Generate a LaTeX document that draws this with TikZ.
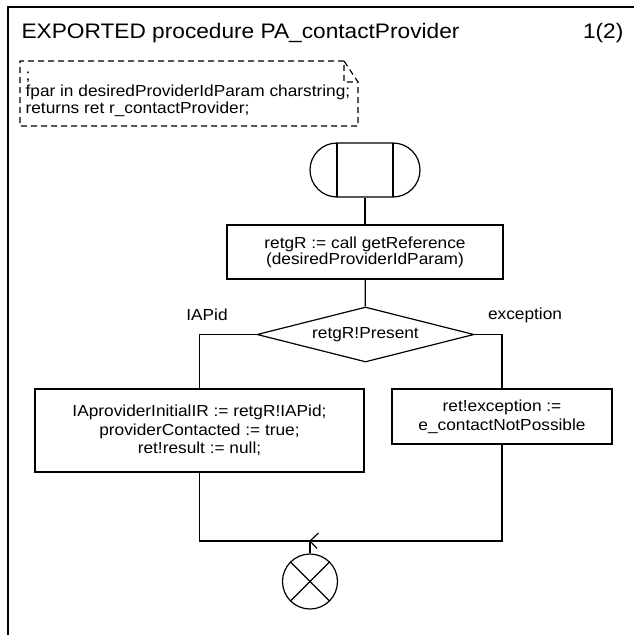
\documentclass[tikz,border=0pt]{standalone}
\usepackage{fontspec}
\setmainfont{Liberation Sans}[FakeStretch=1.08]
\usetikzlibrary{shapes.geometric,shapes.misc}
\begin{document}
\begin{tikzpicture}[x=1pt,y=1pt,line width=1.2pt,
  boxtxt/.style={font=\fontsize{16}{18.7}\selectfont},
  taskbox/.style={draw,rectangle,inner sep=0pt,align=center,boxtxt},
  decbox/.style={draw,diamond,inner sep=0pt,aspect=3.95,minimum width=217pt,minimum height=55pt,boxtxt},
  startbox/.style={draw,rounded rectangle,minimum width=110pt,minimum height=54pt,inner sep=0pt},
  stopbox/.style={draw,circle,minimum size=55pt,inner sep=0pt},
  lbl/.style={boxtxt,inner sep=0pt},
  decltxt/.style={font=\fontsize{16}{16.3}\selectfont,align=left,inner sep=0pt,anchor=base west},
  titletxt/.style={font=\fontsize{21}{24}\selectfont,inner sep=0pt}
]
\useasboundingbox (0,0) rectangle (634,-635);
% frame
\draw (8,-635) -- (8,-7) -- (634,-7);
\node[titletxt,anchor=base west] (title) at (21,-38.5) {EXPORTED procedure PA\_contactProvider};
\node[titletxt,anchor=base east] (page) at (624,-38.5) {1(2)};
% declaration text symbol
\draw[dash pattern=on 6pt off 4pt] (344,-61) -- (20,-61) -- (20,-126) -- (358,-126) -- (358,-82) -- (344,-61) -- (344,-82) -- (358,-82);
\node[decltxt] (decl) at (25,-113) {;\\fpar in desiredProviderIdParam charstring;\\returns ret r\_contactProvider;};
% flow
\node[startbox] (start) at (365,-170) {};
\draw (337,-143) -- (337,-197);
\draw (393,-143) -- (393,-197);
\node[taskbox,minimum width=276pt,minimum height=54pt,font=\fontsize{16}{14.5}\selectfont] (box1) at (365,-252) {retgR := call getReference\\(desiredProviderIdParam)};
\node[decbox] (dec) at (365.5,-334.5) {retgR!Present};
\node[taskbox,minimum width=329pt,minimum height=83pt] (lbox) at (199.5,-430.5) {IAproviderInitialIR := retgR!IAPid;\\providerContacted := true;\\ret!result := null;};
\node[taskbox,minimum width=220pt,minimum height=55pt] (rbox) at (502,-416.5) {ret!exception :=\\e\_contactNotPossible};
\node[lbl] (lIA) at (207,-315) {IAPid};
\node[lbl] (lex) at (525,-315) {exception};
\node[stopbox] (stop) at (310,-581.5) {};
\draw (stop.45) -- (stop.225);
\draw (stop.135) -- (stop.315);
\coordinate (join) at (310,-541);
\draw (start) -- (box1);
\draw (box1) -- (dec);
\draw (dec.west) -| (lbox.north);
\draw (dec.east) -| (rbox.north);
\draw (lbox.south) |- (join) -| (rbox.south);
\draw (stop.north) -- (join);
\draw ([shift={(8.5,8)}]join) -- (join) -- ([shift={(7,-7.5)}]join);
\end{tikzpicture}
\end{document}
